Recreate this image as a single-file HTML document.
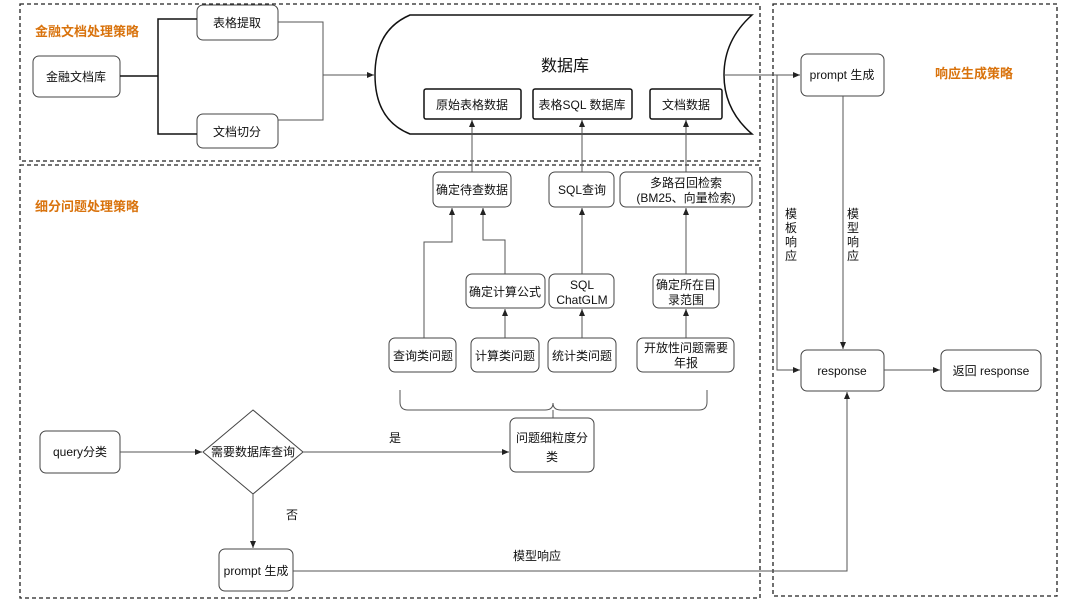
<!DOCTYPE html>
<html><head><meta charset="utf-8"><style>
html,body{margin:0;padding:0;background:#fff}
svg{display:block;font-family:"Liberation Sans","Noto Sans CJK SC",sans-serif}
</style></head><body>
<svg width="1080" height="605" viewBox="0 0 1080 605" xmlns="http://www.w3.org/2000/svg">
<defs><marker id="a" markerWidth="8" markerHeight="8" refX="7" refY="4" orient="auto" markerUnits="userSpaceOnUse"><path d="M0,1 L7,4 L0,7 Z" fill="#222"/></marker></defs>
<g fill="none" stroke="#222" stroke-width="1.3" stroke-dasharray="4,3">
<rect x="20" y="4" width="740" height="157"/>
<rect x="20" y="165" width="740" height="433"/>
<rect x="773" y="4" width="284" height="592"/>
</g>
<g font-size="13" font-weight="bold" fill="#d9730d">
<text x="35" y="36">金融文档处理策略</text>
<text x="35" y="211">细分问题处理策略</text>
<text x="935" y="78">响应生成策略</text>
</g>
<!-- DB shape -->
<path d="M410,15 L752,15 Q724,40 724,75 Q724,110 752,134 L410,134 Q375,120 375,75 Q375,30 410,15 Z" fill="#fff" stroke="#111" stroke-width="1.5"/>
<text x="565" y="71" font-size="16" text-anchor="middle" fill="#111">数据库</text>
<g fill="#fff" stroke="#111" stroke-width="1.5">
<rect x="424" y="89" width="97" height="30" rx="2"/>
<rect x="533" y="89" width="99" height="30" rx="2"/>
<rect x="650" y="89" width="72" height="30" rx="2"/>
</g>
<g fill="#fff" stroke="#444" stroke-width="1">
<rect x="33" y="56" width="87" height="41" rx="6"/>
<rect x="197" y="5" width="81" height="35" rx="6"/>
<rect x="197" y="114" width="81" height="34" rx="6"/>
<rect x="433" y="172" width="78" height="35" rx="6"/>
<rect x="549" y="172" width="65" height="35" rx="6"/>
<rect x="620" y="172" width="132" height="35" rx="6"/>
<rect x="466" y="274" width="79" height="34" rx="6"/>
<rect x="549" y="274" width="65" height="34" rx="6"/>
<rect x="653" y="274" width="66" height="34" rx="6"/>
<rect x="389" y="338" width="67" height="34" rx="6"/>
<rect x="471" y="338" width="68" height="34" rx="6"/>
<rect x="548" y="338" width="68" height="34" rx="6"/>
<rect x="637" y="338" width="97" height="34" rx="6"/>
<rect x="510" y="418" width="84" height="54" rx="6"/>
<rect x="40" y="431" width="80" height="42" rx="6"/>
<rect x="219" y="549" width="74" height="42" rx="6"/>
<rect x="801" y="54" width="83" height="42" rx="6"/>
<rect x="801" y="350" width="83" height="41" rx="6"/>
<rect x="941" y="350" width="100" height="41" rx="6"/>
<path d="M253,410 L303,452 L253,494 L203,452 Z"/>
</g>
<g fill="none" stroke="#111" stroke-width="1.5">
<path d="M120,76 H158 M197,19 H158 V134 H197"/>
</g>
<g fill="none" stroke="#555" stroke-width="1">
<path d="M278,22 H323 V120 H278"/>
<path d="M323,75 H374" marker-end="url(#a)"/>
<path d="M472,172 V120" marker-end="url(#a)"/>
<path d="M582,172 V120" marker-end="url(#a)"/>
<path d="M686,172 V120" marker-end="url(#a)"/>
<path d="M424,338 V242 H452 V208" marker-end="url(#a)"/>
<path d="M505,274 V240 H483 V208" marker-end="url(#a)"/>
<path d="M505,338 V309" marker-end="url(#a)"/>
<path d="M582,274 V208" marker-end="url(#a)"/>
<path d="M582,338 V309" marker-end="url(#a)"/>
<path d="M686,274 V208" marker-end="url(#a)"/>
<path d="M686,338 V309" marker-end="url(#a)"/>
<path d="M400,390 V402 Q400,410 408,410 H545 Q553,410 553,403 Q553,410 561,410 H699 Q707,410 707,402 V390 M553,410 V418"/>
<path d="M120,452 H202" marker-end="url(#a)"/>
<path d="M303,452 H509" marker-end="url(#a)"/>
<path d="M253,494 V548" marker-end="url(#a)"/>
<path d="M293,571 H847 V392" marker-end="url(#a)"/>
<path d="M724,75 H800" marker-end="url(#a)"/>
<path d="M777,75 V370 H800" marker-end="url(#a)"/>
<path d="M843,96 V349" marker-end="url(#a)"/>
<path d="M884,370 H940" marker-end="url(#a)"/>
</g>
<g font-size="12" fill="#111" text-anchor="middle">
<text x="76" y="81">金融文档库</text>
<text x="237" y="27">表格提取</text>
<text x="237" y="136">文档切分</text>
<text x="472" y="109">原始表格数据</text>
<text x="582" y="109">表格SQL 数据库</text>
<text x="686" y="109">文档数据</text>
<text x="472" y="194">确定待查数据</text>
<text x="582" y="194">SQL查询</text>
<text x="686" y="187">多路召回检索</text>
<text x="686" y="202">(BM25、向量检索)</text>
<text x="505" y="296">确定计算公式</text>
<text x="582" y="289">SQL</text>
<text x="582" y="304">ChatGLM</text>
<text x="686" y="289">确定所在目</text>
<text x="686" y="304">录范围</text>
<text x="423" y="360">查询类问题</text>
<text x="505" y="360">计算类问题</text>
<text x="582" y="360">统计类问题</text>
<text x="686" y="352">开放性问题需要</text>
<text x="686" y="367">年报</text>
<text x="552" y="442">问题细粒度分</text>
<text x="552" y="461">类</text>
<text x="80" y="456">query分类</text>
<text x="253" y="456">需要数据库查询</text>
<text x="256" y="575">prompt 生成</text>
<text x="842" y="79">prompt 生成</text>
<text x="842" y="375">response</text>
<text x="991" y="375">返回 response</text>
<text x="395" y="442">是</text>
<text x="292" y="519">否</text>
<text x="537" y="560">模型响应</text>
<text x="791" y="218">模</text><text x="791" y="232">板</text><text x="791" y="246">响</text><text x="791" y="260">应</text>
<text x="853" y="218">模</text><text x="853" y="232">型</text><text x="853" y="246">响</text><text x="853" y="260">应</text>
</g>
</svg>
</body></html>
